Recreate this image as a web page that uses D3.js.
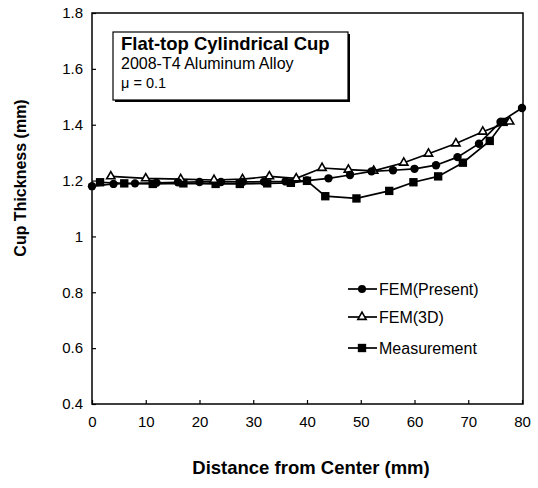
<!DOCTYPE html>
<html>
<head>
<meta charset="utf-8">
<script src="https://cdn.jsdelivr.net/npm/d3@7"></script>
<style>
  body { margin: 0; background: #fff; }
  text { font-family: "Liberation Sans", Arial, sans-serif; fill: #000; }
</style>
</head>
<body>
<script>
// Data
var xTicks = [0, 10, 20, 30, 40, 50, 60, 70, 80];
var yTicks = [0.4, 0.6, 0.8, 1, 1.2, 1.4, 1.6, 1.8];

var presentX = [0, 4, 8, 12, 16, 20, 24, 28, 32, 36, 40, 44, 48, 52, 56, 60, 64, 68, 72, 76, 80];
var presentY = [1.18, 1.188, 1.19, 1.192, 1.194, 1.195, 1.195, 1.195, 1.196, 1.197, 1.2, 1.208, 1.22, 1.233, 1.237, 1.242, 1.255, 1.284, 1.332, 1.41, 1.46];

var fem3dX = [3.5, 10, 16.5, 22.7, 28, 33, 38, 42.8, 47.7, 52.4, 58, 62.6, 67.7, 72.7, 77.7];
var fem3dY = [1.215, 1.208, 1.205, 1.202, 1.205, 1.215, 1.208, 1.245, 1.239, 1.235, 1.264, 1.296, 1.333, 1.375, 1.411];

var measX = [1.5, 6, 11.3, 17, 23, 27.5, 32.6, 37, 40, 43.4, 49.2, 55.3, 59.8, 64.4, 69, 74, 76.6];
var measY = [1.194, 1.19, 1.188, 1.19, 1.188, 1.188, 1.19, 1.192, 1.199, 1.144, 1.136, 1.163, 1.194, 1.215, 1.264, 1.342, 1.41];

var seriesNames = ["FEM(Present)", "FEM(3D)", "Measurement"];

function main() {
  var width = 538, height = 488;
  var plotL = 92, plotR = 523, plotT = 13, plotB = 404;

  var svg = d3.select("body").append("svg")
    .attr("width", width)
    .attr("height", height);

  var x = d3.scaleLinear().domain([0, 80]).range([plotL, plotR - 1]);
  var y = d3.scaleLinear().domain([0.4, 1.8]).range([plotB, plotT]);

  // frame
  svg.append("rect")
    .attr("x", plotL).attr("y", plotT)
    .attr("width", plotR - plotL).attr("height", plotB - plotT)
    .attr("fill", "none").attr("stroke", "#000").attr("stroke-width", 1.5);

  // axes with inward ticks
  var xAxis = svg.append("g")
    .attr("transform", "translate(0," + plotB + ")")
    .call(d3.axisBottom(x).tickValues(xTicks).tickSizeInner(-4).tickSizeOuter(0).tickPadding(12));
  var yAxis = svg.append("g")
    .attr("transform", "translate(" + plotL + ",0)")
    .call(d3.axisLeft(y).tickValues(yTicks).tickSizeInner(-4).tickSizeOuter(0).tickPadding(9)
      .tickFormat(function(d) { return String(+d.toFixed(1)); }));

  [xAxis, yAxis].forEach(function(g) {
    g.select(".domain").remove();
    g.selectAll(".tick line").attr("stroke", "#000").attr("stroke-width", 1.2);
    g.selectAll(".tick text")
      .style("font-family", "'Liberation Sans', Arial, sans-serif")
      .style("font-size", "15px")
      .attr("fill", "#000");
  });

  // axis titles
  svg.append("text")
    .attr("x", 311).attr("y", 474)
    .attr("text-anchor", "middle")
    .style("font-size", "18.5px").style("font-weight", "bold")
    .text("Distance from Center (mm)");

  svg.append("text")
    .attr("transform", "translate(26,178) rotate(-90)")
    .attr("text-anchor", "middle")
    .style("font-size", "16px").style("font-weight", "bold")
    .text("Cup Thickness (mm)");

  // series
  function pts(xs, ys) { return xs.map(function(v, i) { return [v, ys[i]]; }); }
  var line = d3.line().x(function(d) { return x(d[0]); }).y(function(d) { return y(d[1]); });

  var meas = pts(measX, measY);
  var fem3d = pts(fem3dX, fem3dY);
  var present = pts(presentX, presentY);

  var triangle = d3.symbol().type(d3.symbolTriangle).size(30);
  var square = d3.symbol().type(d3.symbolSquare).size(70);

  function drawLine(data) {
    svg.append("path").datum(data)
      .attr("d", line)
      .attr("fill", "none").attr("stroke", "#000").attr("stroke-width", 1.7);
  }
  drawLine(meas);
  drawLine(fem3d);
  drawLine(present);

  svg.selectAll(".sq").data(meas).enter().append("path")
    .attr("transform", function(d) { return "translate(" + x(d[0]) + "," + y(d[1]) + ")"; })
    .attr("d", square).attr("fill", "#000");

  svg.selectAll(".tri").data(fem3d).enter().append("path")
    .attr("transform", function(d) { return "translate(" + x(d[0]) + "," + y(d[1]) + ")"; })
    .attr("d", triangle).attr("fill", "#fff").attr("stroke", "#000").attr("stroke-width", 1.6);

  svg.selectAll(".dot").data(present).enter().append("circle")
    .attr("cx", function(d) { return x(d[0]); })
    .attr("cy", function(d) { return y(d[1]); })
    .attr("r", 4.2).attr("fill", "#000");

  // legend
  var legendY = [289, 317, 348];
  seriesNames.forEach(function(name, i) {
    var ly = legendY[i];
    svg.append("line")
      .attr("x1", 348).attr("x2", 377).attr("y1", ly).attr("y2", ly)
      .attr("stroke", "#000").attr("stroke-width", 1.7);
    if (i === 0) {
      svg.append("circle").attr("cx", 362).attr("cy", ly).attr("r", 4).attr("fill", "#000");
    } else if (i === 1) {
      svg.append("path").attr("transform", "translate(362," + ly + ")")
        .attr("d", triangle).attr("fill", "#fff").attr("stroke", "#000").attr("stroke-width", 1.6);
    } else {
      svg.append("path").attr("transform", "translate(362," + ly + ")")
        .attr("d", square).attr("fill", "#000");
    }
    svg.append("text")
      .attr("x", 379).attr("y", ly + 6)
      .style("font-size", "16px")
      .text(name);
  });

  // title box with shadow
  svg.append("rect")
    .attr("x", 115).attr("y", 34).attr("width", 235).attr("height", 68)
    .attr("fill", "#000");
  svg.append("rect")
    .attr("x", 113).attr("y", 32).attr("width", 235).attr("height", 68)
    .attr("fill", "#fff").attr("stroke", "#000").attr("stroke-width", 1.2);

  svg.append("text").attr("x", 121).attr("y", 50)
    .style("font-size", "18.5px").style("font-weight", "bold")
    .text("Flat-top Cylindrical Cup");
  svg.append("text").attr("x", 121).attr("y", 69)
    .style("font-size", "16px")
    .text("2008-T4 Aluminum Alloy");
  svg.append("text").attr("x", 121).attr("y", 88)
    .style("font-size", "14.5px")
    .text("μ = 0.1");
}

main();
</script>
</body>
</html>
